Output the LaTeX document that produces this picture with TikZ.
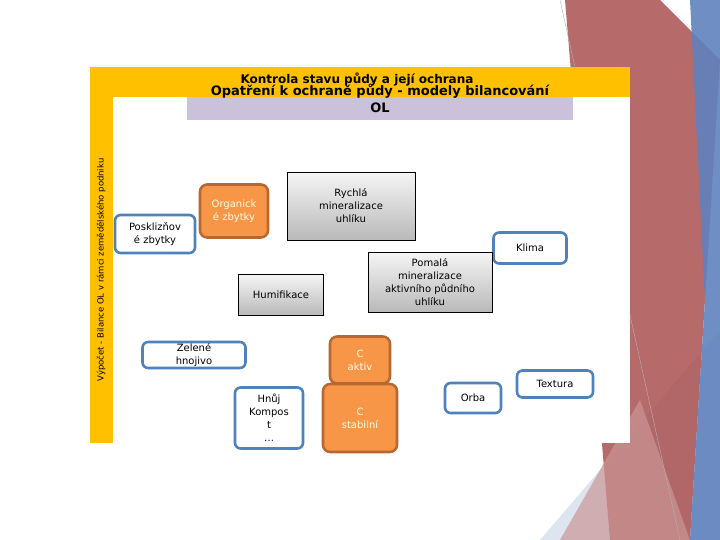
\documentclass[tikz,border=0pt]{standalone}
\usepackage{fontspec}
\setmainfont{DejaVu Sans}
\usetikzlibrary{positioning}
\definecolor{frameyellow}{RGB}{255,192,0}
\definecolor{lavender}{RGB}{204,193,218}
\definecolor{boxblue}{RGB}{79,129,189}
\definecolor{orgorange}{RGB}{247,150,70}
\definecolor{orgborder}{RGB}{183,104,50}
\definecolor{slabred}{RGB}{170,80,80}
\definecolor{slabblue}{RGB}{95,130,190}

\tikzset{
		factor/.style={draw=boxblue, line width=0.9mm, rounded corners=2mm, fill=white, align=center, font=\fontsize{10}{13}\selectfont},
		carbon/.style={draw=orgborder, line width=0.9mm, rounded corners=2.5mm, fill=orgorange, text=white!90!yellow, align=center, font=\fontsize{10}{13}\selectfont},
		process/.style={draw=black, line width=0.3mm, top color=white!92!gray, bottom color=gray!55, align=center, font=\fontsize{10}{13}\selectfont}
	}

\begin{document}
\begin{tikzpicture}[x=1pt,y=-1pt]

\useasboundingbox (0,0) rectangle (720,540);

% background slabs
\fill [slabblue!35, opacity=0.6] (540,540) -- (720,330) -- (720,540) -- cycle;
\fill [slabred, opacity=0.85] (565,0) -- (660,0) -- (720,60) -- (690,540) -- (610,540) -- cycle;
\fill [slabred!60, opacity=0.7] (560,540) -- (640,400) -- (690,540) -- cycle;
\fill [slabblue, opacity=0.9] (690,0) -- (720,0) -- (720,540) -- (690,540) -- (705,300) -- cycle;
\draw [gray!60] (560,0) -- (680,540);

% frame
\fill [frameyellow] (90,67) rectangle (630,97);
\fill [frameyellow] (90,97) rectangle (113,443);
\fill [white] (113,97) rectangle (630,443);
\fill [lavender] (187,97) rectangle (573,120);

\node (title) at (380,91) [font=\fontsize{13}{15}\selectfont\bfseries] {Opatření k ochraně půdy - modely bilancování};
\node (titleb) at (380,108) [font=\fontsize{13}{15}\selectfont\bfseries] {OL};
\node (title2) at (357,80) [font=\fontsize{12}{14}\selectfont\bfseries] {Kontrola stavu půdy a její ochrana};
\node (side) at (101,270) [rotate=90, font=\fontsize{8.5}{10}\selectfont] {Výpočet - Bilance OL v rámci zemědělského podniku};

% nodes
\node (poskliz) at (155,234) [factor, minimum width=80pt, minimum height=38pt] {Posklizňov\\é zbytky};
\node (organic) at (234,211) [carbon, minimum width=68pt, minimum height=53pt] {Organick\\é zbytky};
\node (rychla) at (351,206) [process, minimum width=128pt, minimum height=68pt] {Rychlá\\mineralizace\\uhlíku};
\node (klima) at (530,248) [factor, minimum width=73pt, minimum height=31pt] {Klima};
\node (pomala) at (430,282) [process, minimum width=124pt, minimum height=60pt, inner sep=1pt] {Pomalá\\mineralizace\\aktivního půdního\\uhlíku};
\node (humif) at (281,295) [process, minimum width=85pt, minimum height=41pt] {Humifikace};
\node (zelene) at (194,355) [factor, minimum width=103pt, minimum height=26pt, inner sep=1pt] {Zelené\\hnojivo};
\node (caktiv) at (360,360) [carbon, minimum width=60pt, minimum height=47pt] {C\\aktiv};
\node (cstab) at (360,418) [carbon, minimum width=74pt, minimum height=68pt] {C\\stabilní};
\node (hnuj) at (269,418) [factor, minimum width=68pt, minimum height=61pt, inner sep=1pt] {Hnůj\\Kompos\\t\\…};
\node (orba) at (473,398) [factor, minimum width=56pt, minimum height=30pt] {Orba};
\node (textura) at (555,384) [factor, minimum width=76pt, minimum height=27pt] {Textura};

\end{tikzpicture}
\end{document}
